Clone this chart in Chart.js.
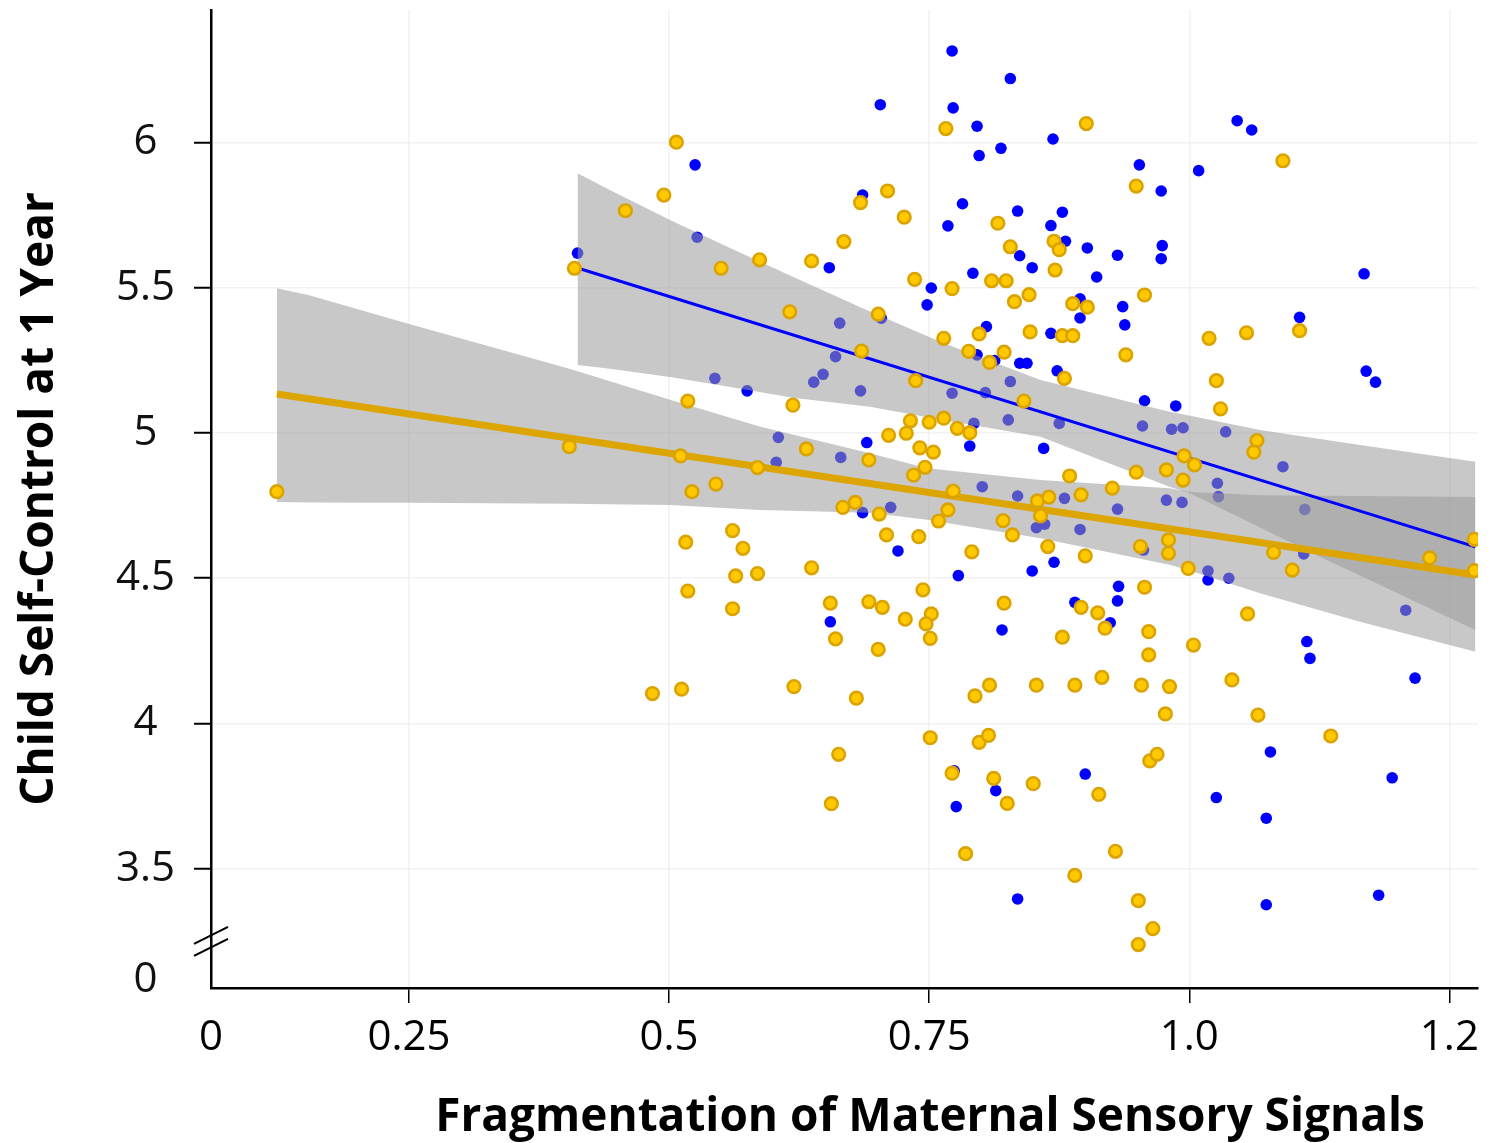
<!DOCTYPE html>
<html>
<head>
<meta charset="utf-8">
<script src="https://cdn.jsdelivr.net/npm/chart.js@4.4.1/dist/chart.umd.min.js"></script>
<style>
html,body{margin:0;padding:0;background:#fff;overflow:hidden}
#wrap{width:1501px;height:1143px;position:relative}
</style>
</head>
<body>
<div id="wrap"><canvas id="c" width="1501" height="1143"></canvas></div>
<script>
// ---------- data ----------
const xTitle = "Fragmentation of Maternal Sensory Signals";
const yTitle = "Child Self-Control at 1 Year";

const xTickValues = [0.0597, 0.25, 0.5, 0.75, 1.0, 1.25];
const xTickLabels = ["0", "0.25", "0.5", "0.75", "1.0", "1.2"];
const yTickValues = [3.117, 3.5, 4, 4.5, 5, 5.5, 6];
const yTickLabels = ["0", "3.5", "4", "4.5", "5", "5.5", "6"];

const blueX = [0.412,0.525,0.527,0.686,0.654,0.664,0.772,0.828,0.703,0.773,0.796,0.869,0.798,0.819,0.952,0.973,0.782,0.768,0.835,0.878,
0.867,0.837,0.881,0.902,0.931,0.974,0.973,0.849,0.911,0.792,0.752,0.748,0.895,0.895,0.936,0.938,0.704,0.805,0.867,1.046,
1.060,1.009,1.168,1.106,0.660,0.648,0.639,0.684,0.544,0.575,0.605,0.690,0.665,0.603,0.686,0.655,0.796,0.813,0.837,0.844,
0.873,0.772,0.804,0.828,0.957,0.793,0.826,0.875,0.955,0.789,0.860,0.801,0.835,0.880,0.713,0.853,0.861,0.895,0.931,0.978,
0.956,0.720,0.870,0.849,0.778,0.932,0.931,0.890,0.924,0.820,1.170,1.179,0.987,0.983,0.994,1.035,1.090,1.027,1.028,0.993,
1.111,1.110,1.018,1.018,1.038,1.208,1.113,1.116,0.774,0.814,0.776,0.900,0.835,1.217,1.078,1.195,1.026,1.074,1.074,1.182];
const blueY = [5.619,5.923,5.674,5.819,5.569,5.378,6.315,6.220,6.130,6.119,6.056,6.012,5.955,5.980,5.923,5.833,5.789,5.713,5.764,5.760,
5.714,5.610,5.660,5.637,5.612,5.645,5.600,5.569,5.537,5.550,5.499,5.441,5.462,5.396,5.435,5.372,5.395,5.366,5.343,6.075,
6.043,5.903,5.548,5.398,5.263,5.202,5.175,5.145,5.188,5.145,4.985,4.967,4.916,4.899,4.726,4.350,5.269,5.249,5.240,5.240,
5.214,5.137,5.139,5.177,5.111,5.033,5.045,5.033,5.024,4.955,4.947,4.815,4.783,4.775,4.744,4.674,4.686,4.668,4.738,4.769,
4.597,4.594,4.555,4.525,4.509,4.472,4.422,4.417,4.347,4.322,5.213,5.175,5.093,5.013,5.018,5.004,4.884,4.827,4.781,4.761,
4.737,4.584,4.525,4.494,4.500,4.390,4.282,4.224,3.837,3.769,3.714,3.826,3.396,4.156,3.902,3.813,3.745,3.674,3.376,3.409];

const orangeX = [0.123,0.404,0.409,0.507,0.495,0.458,0.684,0.668,0.550,0.587,0.637,0.616,0.766,0.901,0.949,0.710,0.726,0.816,0.828,0.870,
0.875,0.871,0.736,0.772,0.810,0.824,0.846,0.832,0.888,0.902,0.957,0.701,0.798,0.764,0.847,0.878,0.888,1.090,1.106,1.055,
1.019,0.685,0.518,0.619,0.632,0.692,0.511,0.585,0.522,0.545,0.667,0.679,0.561,0.516,0.571,0.637,0.564,0.585,0.518,0.561,
0.655,0.692,0.660,0.788,0.808,0.822,0.880,0.939,0.737,0.841,0.732,0.750,0.764,0.777,0.789,0.728,0.711,0.741,0.754,0.746,
0.735,0.885,0.949,0.978,0.773,0.854,0.865,0.896,0.926,0.702,0.768,0.759,0.857,0.821,0.830,0.709,0.740,0.864,0.900,0.953,
0.980,0.980,0.791,0.744,0.957,0.705,0.822,0.896,0.912,0.752,0.747,0.727,0.751,0.919,0.878,0.961,0.701,0.961,1.026,1.030,
1.065,1.062,0.995,1.005,0.994,1.081,1.231,1.274,1.274,0.999,1.099,1.056,1.004,0.484,0.512,0.620,0.680,0.663,0.656,0.794,
0.808,0.853,0.890,0.916,0.954,0.981,0.977,0.751,0.798,0.807,0.772,0.812,0.825,0.850,0.913,0.962,0.969,0.785,0.929,0.890,
0.951,0.965,0.951,1.041,1.066,1.136];
const orangeY = [4.798,4.953,5.567,6.001,5.819,5.765,5.793,5.659,5.567,5.596,5.592,5.417,6.048,6.065,5.850,5.833,5.743,5.722,5.641,5.660,
5.631,5.561,5.529,5.497,5.524,5.524,5.476,5.452,5.445,5.433,5.475,5.409,5.341,5.326,5.348,5.335,5.335,5.937,5.352,5.345,
5.326,5.282,5.110,5.096,4.945,4.907,4.921,4.881,4.798,4.824,4.744,4.761,4.664,4.624,4.603,4.536,4.508,4.516,4.456,4.395,
4.414,4.419,4.291,5.281,5.243,5.278,5.188,5.269,5.180,5.110,5.042,5.037,5.051,5.016,5.001,4.999,4.992,4.949,4.934,4.882,
4.855,4.852,4.865,4.873,4.800,4.766,4.779,4.787,4.810,4.721,4.735,4.697,4.715,4.698,4.649,4.649,4.643,4.609,4.577,4.609,
4.632,4.586,4.591,4.460,4.469,4.400,4.414,4.400,4.381,4.377,4.343,4.359,4.293,4.328,4.297,4.316,4.255,4.236,5.180,5.083,
4.974,4.934,4.921,4.890,4.838,4.589,4.570,4.634,4.526,4.534,4.528,4.377,4.270,4.103,4.118,4.127,4.087,3.894,3.724,4.095,
4.132,4.132,4.132,4.159,4.132,4.127,4.033,3.951,3.935,3.959,3.829,3.811,3.725,3.793,3.756,3.871,3.894,3.552,3.560,3.477,
3.390,3.294,3.239,4.150,4.029,3.957];

// fitted lines (end points)
const orangeLineX = [0.123, 1.275];
const orangeLineY = [5.134, 4.511];
const blueLineX = [0.412, 1.275];
const blueLineY = [5.568, 4.608];

// confidence bands
const orangeBandX = [0.123,0.155,0.251,0.405,0.501,0.587,0.693,0.748,0.857,0.981,1.001,1.068,1.164,1.275];
const orangeBandUpper = [5.498,5.473,5.374,5.220,5.114,5.022,4.930,4.879,4.838,4.810,4.797,4.786,4.783,4.780];
const orangeBandLower = [4.762,4.761,4.760,4.756,4.752,4.735,4.725,4.701,4.638,4.546,4.526,4.448,4.350,4.247];
const blueBandX = [0.412,0.443,0.501,0.556,0.619,0.693,0.763,0.857,0.981,1.001,1.068,1.132,1.164,1.275];
const blueBandUpper = [5.894,5.836,5.733,5.641,5.538,5.418,5.311,5.182,5.073,5.059,5.010,4.976,4.959,4.901];
const blueBandLower = [5.234,5.221,5.193,5.160,5.121,5.090,5.045,4.987,4.815,4.792,4.675,4.563,4.509,4.322];

const yBreakAt = 3.25;

// ---------- chart ----------
const pts = (xs, ys) => xs.map((x, i) => ({x: x, y: ys[i]}));
const BAND = 'rgba(154,154,154,0.545)';

Chart.defaults.font.family = "'Open Sans', sans-serif";

const overlay = {
  id: 'overlay',
  afterDraw(chart) {
    const {ctx, scales: {y}, chartArea} = chart;
    ctx.save();
    ctx.fillStyle = '#000';
    ctx.font = "bold 46px 'Open Sans'";
    ctx.textAlign = 'center';
    ctx.textBaseline = 'middle';
    ctx.fillText(xTitle, chartArea.left + 719, chartArea.bottom + 130);
    const yb = y.getPixelForValue(yBreakAt);
    const xa = chartArea.left;
    ctx.strokeStyle = '#000';
    ctx.lineWidth = 2.2;
    [-6, 6].forEach(d => {
      ctx.beginPath();
      ctx.moveTo(xa - 17, yb + d + 8.5);
      ctx.lineTo(xa + 17, yb + d - 8.5);
      ctx.stroke();
    });
    ctx.restore();
  }
};

const noPad = s => { s.paddingTop = 0; s.paddingBottom = 0; s.paddingLeft = 0; s.paddingRight = 0; };

new Chart(document.getElementById('c'), {
  type: 'line',
  data: {
    datasets: [
      { label: 'orange points', data: pts(orangeX, orangeY), showLine: false, order: 0,
        pointRadius: 6.3, pointBorderWidth: 2.6, pointBackgroundColor: '#ffc800', pointBorderColor: '#dba300', clip: 0 },
      { label: 'orange fit', data: pts(orangeLineX, orangeLineY), order: 1, borderColor: '#dca500', borderWidth: 7,
        pointRadius: 0, fill: false, borderCapStyle: 'butt' },
      { label: 'blue fit', data: pts(blueLineX, blueLineY), order: 2, borderColor: '#0000ff', borderWidth: 3,
        pointRadius: 0, fill: false },
      { label: 'orange band lower', data: pts(orangeBandX, orangeBandLower), order: 4, borderWidth: 0,
        borderColor: 'rgba(0,0,0,0)', pointRadius: 0, fill: false },
      { label: 'orange band upper', data: pts(orangeBandX, orangeBandUpper), order: 3, borderWidth: 0,
        borderColor: 'rgba(0,0,0,0)', backgroundColor: BAND, pointRadius: 0, fill: 3 },
      { label: 'blue band lower', data: pts(blueBandX, blueBandLower), order: 6, borderWidth: 0,
        borderColor: 'rgba(0,0,0,0)', pointRadius: 0, fill: false },
      { label: 'blue band upper', data: pts(blueBandX, blueBandUpper), order: 5, borderWidth: 0,
        borderColor: 'rgba(0,0,0,0)', backgroundColor: BAND, pointRadius: 0, fill: 5 },
      { label: 'blue points', data: pts(blueX, blueY), showLine: false, order: 7,
        pointRadius: 5.8, pointBorderWidth: 0, pointBackgroundColor: '#0000ff', pointBorderColor: '#0000ff', clip: 0 }
    ]
  },
  options: {
    responsive: false,
    animation: false,
    devicePixelRatio: 1,
    layout: { padding: { left: 0, right: 23, top: 10, bottom: 0 } },
    plugins: { legend: { display: false }, tooltip: { enabled: false },
      filler: { drawTime: 'beforeDatasetDraw' } },
    scales: {
      x: {
        type: 'linear', position: 'bottom', min: 0.0597, max: 1.2775, z: 1,
        afterBuildTicks: s => { s.ticks = xTickValues.map(v => ({value: v})); },
        afterFit: s => { s.height = 155; noPad(s); },
        ticks: { autoSkip: false, maxRotation: 0, padding: 10, color: '#000',
          font: { size: 42 }, callback: (v, i) => xTickLabels[i] },
        grid: { color: c => c.index === 0 ? 'rgba(0,0,0,0)' : 'rgba(236,236,236,0.7)', lineWidth: 1.5,
          tickColor: c => c.index === 0 ? 'rgba(0,0,0,0)' : '#000', tickLength: 15, tickWidth: 1.5 },
        border: { display: true, color: '#000', width: 2.5 }
      },
      y: {
        type: 'linear', position: 'left', min: 3.0895, max: 6.456, z: 1,
        afterBuildTicks: s => { s.ticks = yTickValues.map(v => ({value: v})); },
        afterFit: s => { s.width = 211; noPad(s); },
        ticks: { autoSkip: false, crossAlign: 'center', padding: 19, color: '#111',
          font: { size: 42 }, callback: (v, i) => yTickLabels[i] },
        grid: { color: c => c.index === 0 ? 'rgba(0,0,0,0)' : 'rgba(236,236,236,0.7)', lineWidth: 1.5,
          tickColor: c => c.index === 0 ? 'rgba(0,0,0,0)' : '#000', tickLength: 17, tickWidth: 2 },
        border: { display: true, color: '#000', width: 2.5 },
        title: { display: true, text: yTitle, color: '#000', padding: { top: 12, bottom: 0 },
          font: { size: 46, weight: 'bold' } }
      }
    }
  },
  plugins: [overlay]
});
</script>
</body>
</html>
